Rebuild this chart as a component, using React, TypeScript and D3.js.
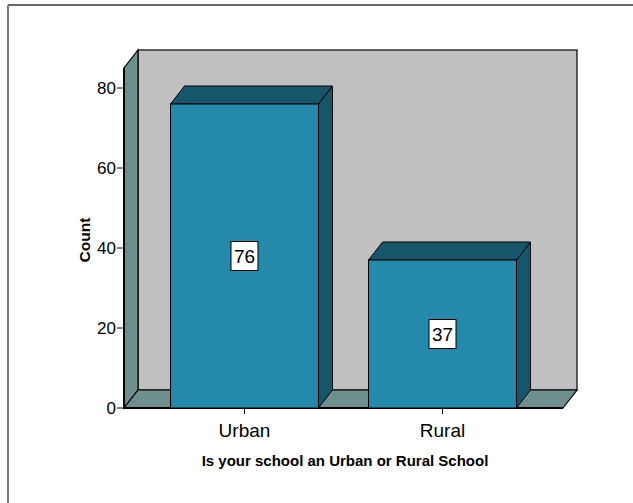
import React from "react";
import * as d3 from "d3";

const categories = ["Urban", "Rural"];
const counts = [76, 37];
const yTicks = [0, 20, 40, 60, 80];
const yTitle = "Count";
const xTitle = "Is your school an Urban or Rural School";

const W = 633;
const H = 503;
const DX = 14;
const DY = 18;
const FONT = "'Liberation Sans', Arial, sans-serif";

export default function App() {
  const x0 = 124, x1 = 563;
  const y = d3.scaleLinear().domain([0, 85]).range([408, 68]);
  const x = d3.scaleBand<string>().domain(categories).range([x0, x1]).paddingInner(0.253).paddingOuter(0.235);
  const bw = x.bandwidth();
  const yb = y(0);
  const yt = y(85);
  const pts = (p: number[][]) => p.map((q) => q.join(",")).join(" ");
  const front = "#2489aa";
  const dark = "#17566a";
  const wallSide = "#6f8f8f";
  return (
    <svg width={W} height={H} style={{ position: "absolute", left: 0, top: 0, background: "#fff" }} fontFamily={FONT}>
      <line x1={8} y1={5} x2={W} y2={5} stroke="#333" strokeWidth={1.5} />
      <line x1={8} y1={5} x2={8} y2={H} stroke="#777" strokeWidth={2} />
      {/* back wall */}
      <rect x={x0 + DX} y={yt - DY} width={x1 - x0} height={yb - yt} fill="#c0c0c0" stroke="#000" strokeWidth={1.2} />
      {/* left wall */}
      <polygon points={pts([[x0, yb], [x0 + DX, yb - DY], [x0 + DX, yt - DY], [x0, yt]])} fill={wallSide} stroke="#000" strokeWidth={1.2} />
      {/* floor */}
      <polygon points={pts([[x0, yb], [x1, yb], [x1 + DX, yb - DY], [x0 + DX, yb - DY]])} fill={wallSide} stroke="#000" strokeWidth={1.2} />
      <line x1={x0} y1={yt} x2={x0} y2={yb} stroke="#000" strokeWidth={2} />
      <line x1={x0} y1={yb} x2={x1} y2={yb} stroke="#000" strokeWidth={2} />
      {categories.map((c, i) => {
        const l = x(c)!;
        const r = l + bw;
        const yv = y(counts[i]);
        return (
          <g key={c}>
            <polygon points={pts([[r, yv], [r + DX, yv - DY], [r + DX, yb - DY], [r, yb]])} fill={dark} stroke="#000" strokeWidth={1} />
            <polygon points={pts([[l, yv], [l + DX, yv - DY], [r + DX, yv - DY], [r, yv]])} fill={dark} stroke="#000" strokeWidth={1} />
            <rect x={l} y={yv} width={bw} height={yb - yv} fill={front} stroke="#000" strokeWidth={1} />
          </g>
        );
      })}
      {categories.map((c, i) => {
        const cx = x(c)! + bw / 2;
        const cy = (y(counts[i]) + yb) / 2;
        return (
          <g key={c + "lab"}>
            <rect x={cx - 13.5} y={cy - 14.5} width={27} height={29} fill="#fff" stroke="#000" strokeWidth={1} />
            <text x={cx} y={cy + 7} textAnchor="middle" fontSize={19} fill="#000">{counts[i]}</text>
          </g>
        );
      })}
      {/* y ticks */}
      {yTicks.map((t) => (
        <g key={t}>
          <line x1={x0 - 7} x2={x0} y1={y(t)} y2={y(t)} stroke="#000" strokeWidth={1} />
          <text x={x0 - 8} y={y(t) + 6} textAnchor="end" fontSize={17} fill="#000">{t}</text>
        </g>
      ))}
      {/* x ticks */}
      {categories.map((c) => {
        const cx = x(c)! + bw / 2;
        return (
          <g key={c + "tick"}>
            <line x1={cx} x2={cx} y1={yb} y2={yb + 6} stroke="#000" strokeWidth={1} />
            <text x={cx} y={437} textAnchor="middle" fontSize={19} fill="#000">{c}</text>
          </g>
        );
      })}
      <text x={345} y={466} textAnchor="middle" fontSize={15} fontWeight="bold" fill="#000">{xTitle}</text>
      <text transform={`translate(90,240) rotate(-90)`} textAnchor="middle" fontSize={15.5} fontWeight="bold" fill="#000">{yTitle}</text>
    </svg>
  );
}
